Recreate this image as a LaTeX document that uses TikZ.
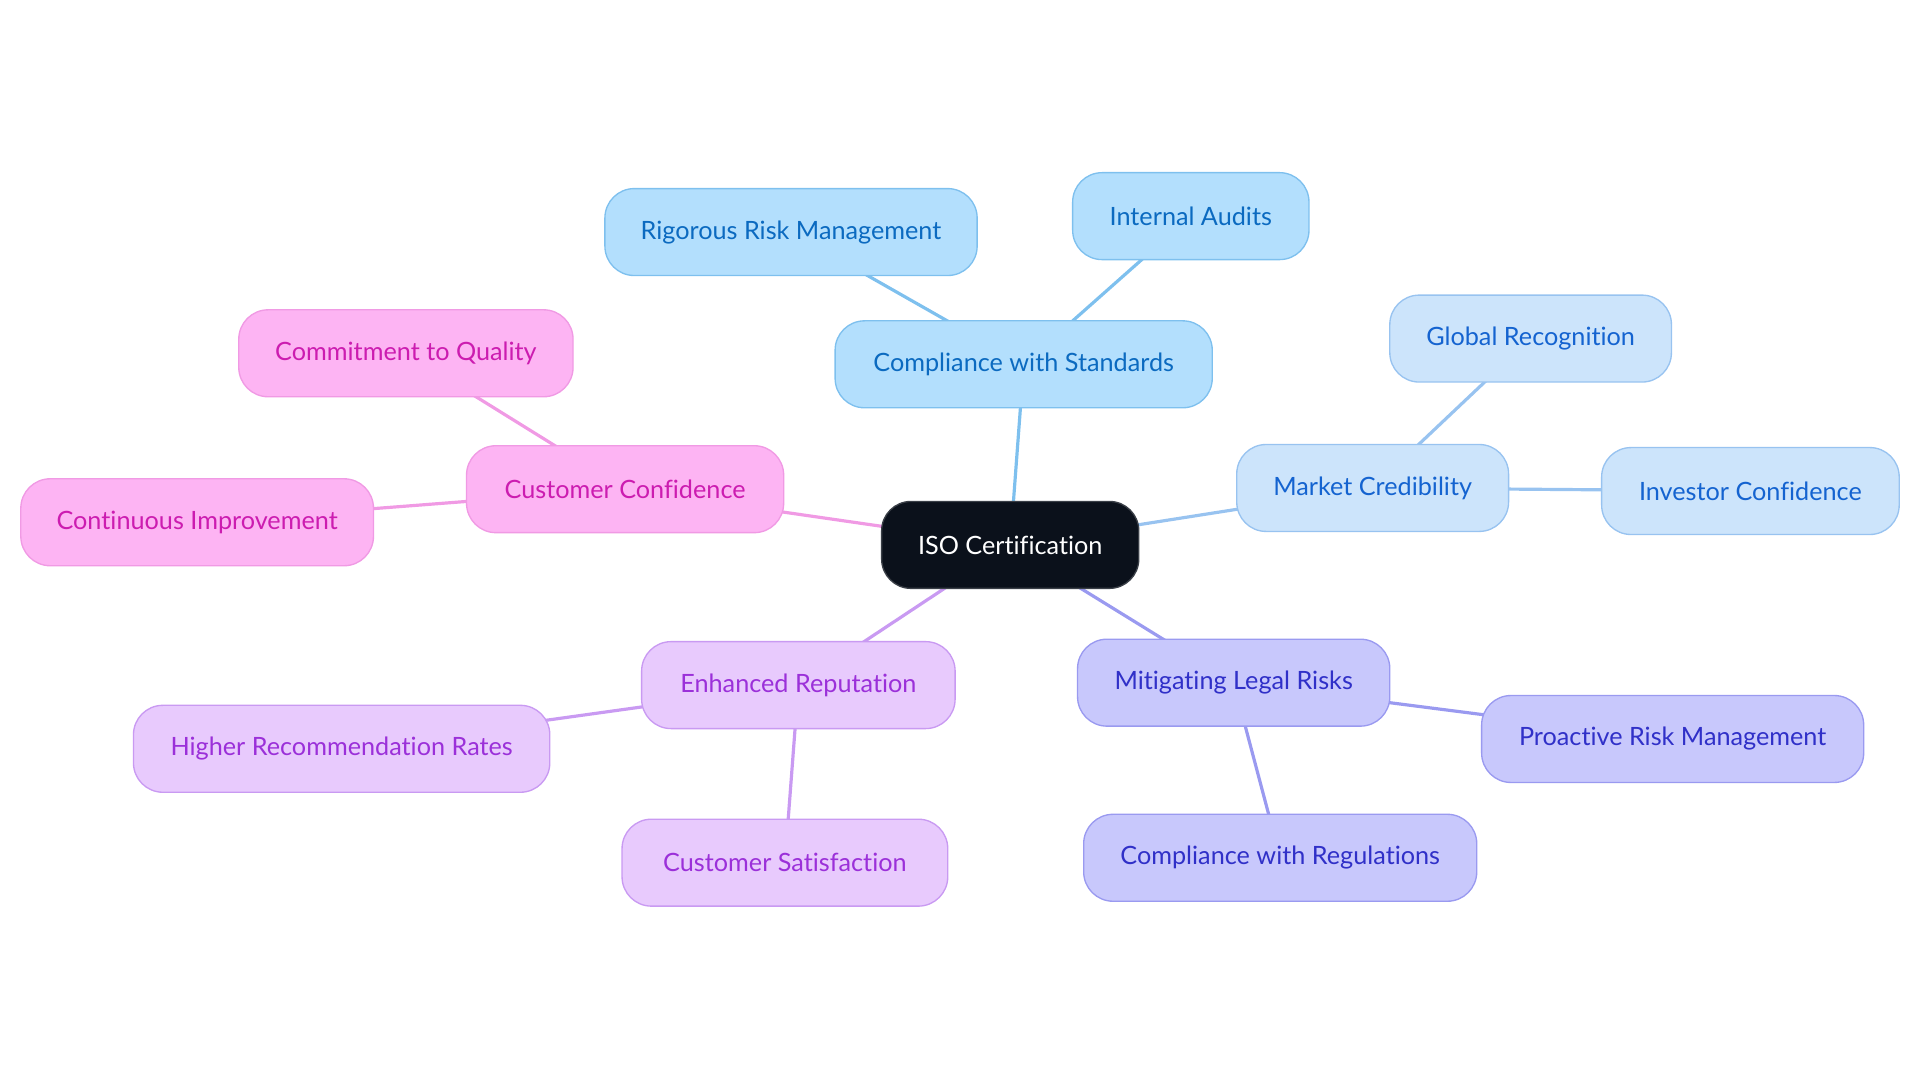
\documentclass[tikz,border=0pt]{standalone}
\usepackage{fontspec}
\setmainfont{Lato}[Ligatures=NoCommon]
\usetikzlibrary{backgrounds}
\definecolor{isofill}{HTML}{0B111B}
\definecolor{isodraw}{HTML}{3A3F47}
\definecolor{bafill}{HTML}{B3DFFD}
\definecolor{badraw}{HTML}{7EC0EE}
\definecolor{batext}{HTML}{0B6AC0}
\definecolor{bbfill}{HTML}{CCE4FB}
\definecolor{bbdraw}{HTML}{98C3F0}
\definecolor{bbtext}{HTML}{1463D0}
\definecolor{infill}{HTML}{C8C8FC}
\definecolor{indraw}{HTML}{9A9AF0}
\definecolor{intext}{HTML}{3030C8}
\definecolor{pufill}{HTML}{E8CAFD}
\definecolor{pudraw}{HTML}{C99AF2}
\definecolor{putext}{HTML}{9B30D9}
\definecolor{pifill}{HTML}{FDB4F3}
\definecolor{pidraw}{HTML}{F09AE4}
\definecolor{pitext}{HTML}{CC1CB0}
\begin{document}
\begin{tikzpicture}[x=1pt,y=-1pt,
  box/.style={draw, line width=1.1pt, rounded corners=24pt, minimum height=71pt,
    inner sep=0pt, font=\fontsize{20.6}{24}\selectfont},
  isobox/.style={box, fill=isofill, draw=isodraw, text=white},
  babox/.style={box, fill=bafill, draw=badraw, text=batext},
  bbbox/.style={box, fill=bbfill, draw=bbdraw, text=bbtext},
  inbox/.style={box, fill=infill, draw=indraw, text=intext},
  pubox/.style={box, fill=pufill, draw=pudraw, text=putext},
  pibox/.style={box, fill=pifill, draw=pidraw, text=pitext},
  link/.style={line width=2.6pt},
]
\useasboundingbox (0,0) rectangle (1568,884.4);

\node[isobox, minimum width=210pt] (iso) at (825,445) {ISO Certification};

\node[babox, minimum width=308pt] (cws) at (836,297.5) {Compliance with Standards};
\node[babox, minimum width=304pt] (rrm) at (646,189.5) {Rigorous Risk Management};
\node[babox, minimum width=193pt] (ia) at (972.5,176.5) {Internal Audits};

\node[bbbox, minimum width=222pt] (mc) at (1121,398.5) {Market Credibility};
\node[bbbox, minimum width=230pt] (gr) at (1250,276.5) {Global Recognition};
\node[bbbox, minimum width=243pt] (ic) at (1429.5,401) {Investor Confidence};

\node[inbox, minimum width=255pt] (mlr) at (1007.5,557.5) {Mitigating Legal Risks};
\node[inbox, minimum width=312pt] (prm) at (1366,603.5) {Proactive Risk Management};
\node[inbox, minimum width=321pt] (cwr) at (1045.5,700.5) {Compliance with Regulations};

\node[pubox, minimum width=256pt] (er) at (652,559.5) {Enhanced Reputation};
\node[pubox, minimum width=340pt] (hrr) at (279,611.5) {Higher Recommendation Rates};
\node[pubox, minimum width=266pt] (cs) at (641,704.5) {Customer Satisfaction};

\node[pibox, minimum width=259pt] (cc) at (510.5,399.5) {Customer Confidence};
\node[pibox, minimum width=273pt] (ctq) at (331.5,288.5) {Commitment to Quality};
\node[pibox, minimum width=288pt] (ci) at (161,426.5) {Continuous Improvement};

\begin{scope}[on background layer]
\draw[link, badraw] (iso.center) -- (cws.center);
\draw[link, badraw] (cws.center) -- (rrm.center);
\draw[link, badraw] (cws.center) -- (ia.center);
\draw[link, bbdraw] (iso.center) -- (mc.center);
\draw[link, bbdraw] (mc.center) -- (gr.center);
\draw[link, bbdraw] (mc.center) -- (ic.center);
\draw[link, indraw] (iso.center) -- (mlr.center);
\draw[link, indraw] (mlr.center) -- (prm.center);
\draw[link, indraw] (mlr.center) -- (cwr.center);
\draw[link, pudraw] (iso.center) -- (er.center);
\draw[link, pudraw] (er.center) -- (hrr.center);
\draw[link, pudraw] (er.center) -- (cs.center);
\draw[link, pidraw] (iso.center) -- (cc.center);
\draw[link, pidraw] (cc.center) -- (ctq.center);
\draw[link, pidraw] (cc.center) -- (ci.center);
\end{scope}
\end{tikzpicture}
\end{document}
